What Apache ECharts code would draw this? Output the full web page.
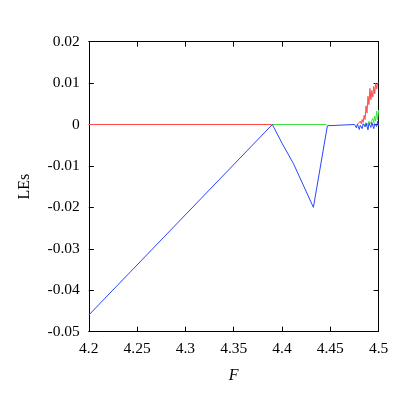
<!DOCTYPE html>
<html><head><meta charset="utf-8">
<script src="https://cdn.jsdelivr.net/npm/echarts@6/dist/echarts.min.js"></script>
<style>html,body{margin:0;padding:0;background:#fff}#c{width:407px;height:407px}</style>
</head><body><div id="c"></div>
<script>
var xTicks = [4.2, 4.25, 4.3, 4.35, 4.4, 4.45, 4.5];
var yTicks = [-0.05, -0.04, -0.03, -0.02, -0.01, 0, 0.01, 0.02];

// red is hidden under green/blue between 4.391 and 4.478 (null marks the hidden stretch)
var redF = [4.2, 4.389, 4.390, 4.391, 4.430, 4.478, 4.479, 4.480, 4.481, 4.482, 4.483, 4.484, 4.485, 4.486, 4.487, 4.488, 4.489, 4.490, 4.491, 4.492, 4.493, 4.494, 4.495, 4.496, 4.497, 4.498, 4.499, 4.500];
var redV = [0, 0, 0.0004, 0, null, 0, 0.0003, 0.0001, 0.0008, 0.0002, 0.0012, 0.0005, 0.0022, 0.0012, 0.0045, 0.0028, 0.0068, 0.0048, 0.0087, 0.0060, 0.0082, 0.0066, 0.0092, 0.0074, 0.0100, 0.0086, 0.0100, 0.0100];

// green is hidden under blue between 4.447 and 4.485
var greenF = [4.390, 4.391, 4.392, 4.446, 4.460, 4.485, 4.486, 4.488, 4.490, 4.491, 4.492, 4.494, 4.495, 4.496, 4.497, 4.498, 4.499, 4.500];
var greenV = [0, 0.0004, 0, 0, null, 0, 0.0003, -0.0003, 0.0008, 0.0001, 0.0002, 0.0015, 0.0004, 0.0020, 0.0008, 0.0032, 0.0012, 0.0035];

var blueF = [4.2, 4.390, 4.400, 4.412, 4.4325, 4.447, 4.448, 4.475, 4.477, 4.478, 4.480, 4.481, 4.483, 4.484, 4.486, 4.487, 4.489, 4.490, 4.492, 4.493, 4.495, 4.496, 4.498, 4.499, 4.500];
var blueV = [-0.046, 0, -0.0045, -0.0095, -0.020, -0.0003, 0, 0, -0.0008, 0.0001, -0.0012, -0.0002, -0.0010, 0.0002, -0.0006, 0.0004, -0.0013, 0.0003, -0.0007, 0.0005, -0.0010, 0.0002, -0.0005, 0.0008, -0.0003];

function pairs(f, v){ return f.map(function(x,i){ return [x, v[i] === null ? '-' : v[i]]; }); }
function fmt(v){ return String(parseFloat(Number(v).toFixed(3))); }

var font = 'Liberation Serif, Times New Roman, serif';
var axisLine = {show:true, onZero:false, lineStyle:{color:'#000', width:1}};
var tick = {show:true, inside:true, length:5, lineStyle:{color:'#000'}};

var chart = echarts.init(document.getElementById('c'), null, {renderer:'canvas'});
chart.setOption({
  animation:false,
  backgroundColor:'#fff',
  grid:{left:88.8, right:28.4, top:41.643, bottom:75.357, containLabel:false},
  xAxis:[{
    type:'value', min:4.2, max:4.5, interval:0.05, position:'bottom',
    axisLine:axisLine, axisTick:tick, splitLine:{show:false},
    axisLabel:{fontFamily:font, fontSize:15.5, color:'#000', margin:9, formatter:fmt},
    name:'F', nameLocation:'middle', nameGap:36,
    nameTextStyle:{fontFamily:font, fontSize:16, fontStyle:'italic', color:'#000'}
  },{
    type:'value', min:4.2, max:4.5, interval:0.05, position:'top',
    axisLine:axisLine, axisTick:tick, splitLine:{show:false}, axisLabel:{show:false}
  }],
  yAxis:[{
    type:'value', min:-0.05, max:0.02, interval:0.01, position:'left',
    axisLine:axisLine, axisTick:tick, splitLine:{show:false},
    axisLabel:{fontFamily:font, fontSize:15.5, color:'#000', margin:9, formatter:fmt},
    name:'LEs', nameLocation:'middle', nameGap:56,
    nameTextStyle:{fontFamily:font, fontSize:16, color:'#000'}
  },{
    type:'value', min:-0.05, max:0.02, interval:0.01, position:'right',
    axisLine:axisLine, axisTick:tick, splitLine:{show:false}, axisLabel:{show:false}
  }],
  series:[
    {type:'line', data:pairs(redF, redV), showSymbol:false, symbol:'none', clip:true,
     connectNulls:false, lineStyle:{color:'#ff4a4a', width:1}, z:2},
    {type:'line', data:pairs(greenF, greenV), showSymbol:false, symbol:'none', clip:true,
     connectNulls:false, lineStyle:{color:'#44e044', width:1}, z:3},
    {type:'line', data:pairs(blueF, blueV), showSymbol:false, symbol:'none', clip:true,
     lineStyle:{color:'#2a46ff', width:1}, z:4}
  ]
});
</script></body></html>
